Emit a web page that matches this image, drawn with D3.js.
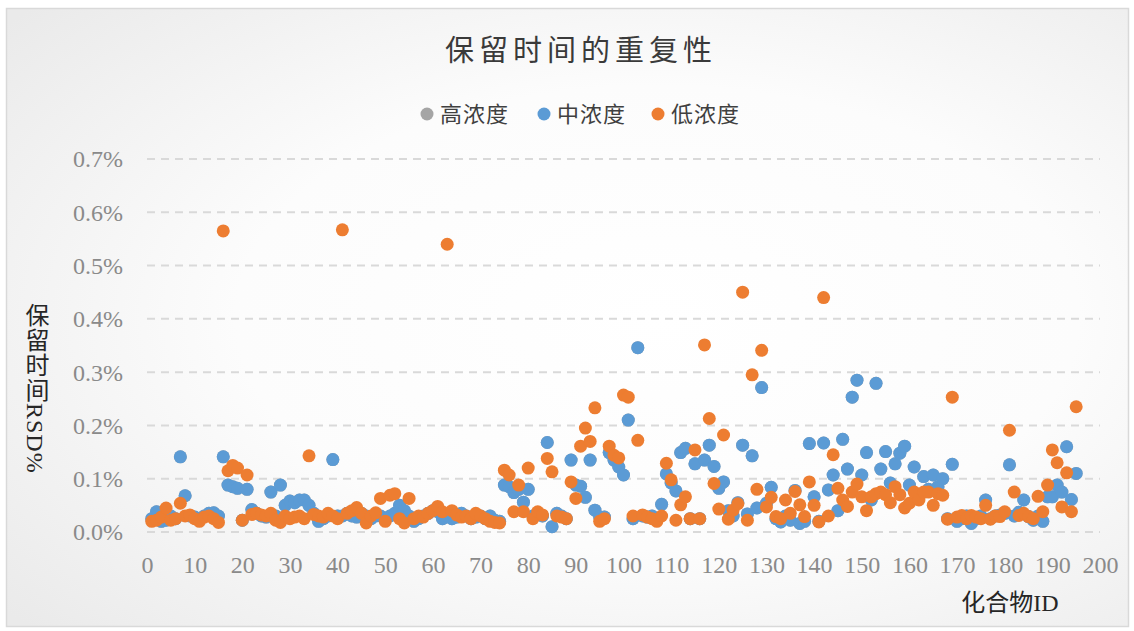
<!DOCTYPE html>
<html><head><meta charset="utf-8">
<script src="https://cdn.jsdelivr.net/npm/d3@7"></script>
<style>
html,body{margin:0;padding:0;background:#fff;}
svg{display:block;}
</style></head>
<body>
<svg id="chart" width="1134" height="631"></svg>
<script>
// ---- Data (RSD %, compound IDs 1..195) ----
const seriesNames = ["高浓度", "中浓度", "低浓度"];
const xTicks = [0,10,20,30,40,50,60,70,80,90,100,110,120,130,140,150,160,170,180,190,200];
const yTicks = [0,0.1,0.2,0.3,0.4,0.5,0.6,0.7];

const midConc = [
.025,.038,.02,.022,.03,.025,.141,.068,.03,.028,
.025,.03,.035,.036,.03,.141,.088,.085,.082,.022,
.08,.042,.035,.03,.028,.075,.03,.088,.05,.058,
.055,.06,.06,.05,.035,.02,.025,.03,.136,.03,
.03,.035,.03,.028,.035,.03,.025,.03,.03,.025,
.03,.035,.05,.04,.03,.02,.025,.03,.035,.04,
.038,.025,.03,.025,.028,.035,.03,.025,.028,.03,
.025,.03,.022,.02,.088,.085,.074,.08,.056,.08,
.03,.035,.03,.168,.01,.035,.03,.025,.135,.088,
.086,.065,.135,.041,.028,.028,.149,.135,.122,.107,
.21,.025,.346,.03,.028,.03,.025,.052,.109,.092,
.077,.149,.157,.025,.128,.025,.135,.163,.123,.082,
.094,.04,.03,.055,.163,.034,.143,.045,.271,.054,
.084,.025,.019,.03,.022,.078,.016,.02,.166,.066,
.02,.167,.079,.107,.04,.174,.118,.253,.285,.107,
.149,.06,.279,.118,.151,.092,.128,.148,.161,.088,
.122,.07,.104,.08,.107,.085,.1,.025,.127,.02,
.025,.03,.016,.025,.03,.06,.025,.03,.032,.035,
.126,.03,.037,.06,.029,.022,.03,.02,.066,.066,
.088,.075,.16,.061,.11
];

const lowConc = [
.02,.022,.028,.045,.022,.025,.054,.03,.032,.025,
.02,.028,.03,.025,.018,.565,.115,.125,.12,.022,
.107,.033,.035,.032,.03,.035,.022,.018,.03,.025,
.028,.03,.025,.143,.033,.03,.028,.035,.03,.025,
.567,.035,.04,.046,.035,.017,.03,.036,.063,.02,
.069,.072,.025,.017,.063,.025,.03,.028,.035,.04,
.048,.038,.54,.04,.032,.028,.03,.025,.035,.03,
.025,.02,.018,.017,.116,.107,.038,.088,.038,.12,
.025,.038,.032,.138,.113,.03,.028,.025,.094,.063,
.161,.195,.17,.233,.02,.025,.161,.144,.139,.257,
.253,.03,.172,.032,.028,.025,.02,.03,.129,.098,
.022,.051,.066,.025,.154,.025,.351,.213,.091,.043,
.182,.024,.041,.053,.45,.022,.295,.08,.341,.047,
.065,.029,.025,.06,.035,.076,.051,.029,.094,.05,
.019,.44,.03,.145,.082,.06,.048,.075,.09,.066,
.04,.066,.072,.075,.07,.055,.085,.07,.045,.054,
.075,.06,.075,.075,.05,.072,.069,.024,.253,.028,
.031,.025,.031,.028,.025,.05,.024,.03,.029,.038,
.191,.075,.031,.035,.029,.025,.067,.038,.088,.154,
.13,.047,.111,.038,.235
];

// high-concentration points coincide with (and are hidden under) the mid series
const highConc = [
.025,.038,.02,.022,.03,.025,.141,.068,.03,.028,
.025,.03,.035,.036,.03,.141,.088,.085,.082,.022,
.08,.042,.035,.03,.028,.075,.03,.088,.05,.058,
.055,.06,.06,.05,.035,.02,.025,.03,.136,.03,
.03,.035,.03,.028,.035,.03,.025,.03,.03,.025,
.03,.035,.05,.04,.03,.02,.025,.03,.035,.04,
.038,.025,.03,.025,.028,.035,.03,.025,.028,.03,
.025,.03,.022,.02,.088,.085,.074,.08,.056,.08,
.03,.035,.03,.168,.01,.035,.03,.025,.135,.088,
.086,.065,.135,.041,.028,.028,.149,.135,.122,.107,
.21,.025,.346,.03,.028,.03,.025,.052,.109,.092,
.077,.149,.157,.025,.128,.025,.135,.163,.123,.082,
.094,.04,.03,.055,.163,.034,.143,.045,.271,.054,
.084,.025,.019,.03,.022,.078,.016,.02,.166,.066,
.02,.167,.079,.107,.04,.174,.118,.253,.285,.107,
.149,.06,.279,.118,.151,.092,.128,.148,.161,.088,
.122,.07,.104,.08,.107,.085,.1,.025,.127,.02,
.025,.03,.016,.025,.03,.06,.025,.03,.032,.035,
.126,.03,.037,.06,.029,.022,.03,.02,.066,.066,
.088,.075,.16,.061,.11
];

const colors = ["#a5a5a5", "#5b9bd5", "#ed7d31"];

// ---- Drawing ----
const svg = d3.select("#chart");

const defs = svg.append("defs");
const grad = defs.append("radialGradient").attr("id","bg")
  .attr("cx","58%").attr("cy","50%").attr("r","75%");
grad.append("stop").attr("offset","0%").attr("stop-color","#ffffff");
grad.append("stop").attr("offset","50%").attr("stop-color","#fcfcfc");
grad.append("stop").attr("offset","100%").attr("stop-color","#eaeaea");

svg.append("rect").attr("x",6.5).attr("y",8.5).attr("width",1122).attr("height",618)
  .attr("fill","url(#bg)").attr("stroke","#d9d9d9").attr("stroke-width",1.5);

const x = d3.scaleLinear().domain([0,200]).range([147,1100]);
const y = d3.scaleLinear().domain([0,0.7]).range([532,159]);

// gridlines
svg.append("g").selectAll("line").data(yTicks).join("line")
  .attr("x1", x(0)).attr("x2", x(200))
  .attr("y1", d => y(d)).attr("y2", d => y(d))
  .attr("stroke","#d9d9d9").attr("stroke-width",2)
  .attr("stroke-dasharray","8,6");

// y axis labels
const yAxis = d3.axisLeft(y).tickValues(yTicks).tickSize(0).tickPadding(0)
  .tickFormat(d => d3.format(".1f")(d) + "%");
const gy = svg.append("g").attr("transform","translate(123,0)").call(yAxis);
gy.select(".domain").remove();
gy.selectAll("text").attr("font-family","'Liberation Serif','DejaVu Serif',serif")
  .attr("font-size",24).attr("fill","#8a8a8a").attr("dy","0.33em");

// x axis labels
const xAxis = d3.axisBottom(x).tickValues(xTicks).tickSize(0).tickPadding(0)
  .tickFormat(d3.format("d"));
const gx = svg.append("g").attr("transform","translate(0,556)").call(xAxis);
gx.select(".domain").remove();
gx.selectAll("text").attr("font-family","'Liberation Serif','DejaVu Serif',serif")
  .attr("font-size",24).attr("fill","#8a8a8a").attr("dy","0.7em");

// points
const allSeries = [highConc, midConc, lowConc];
allSeries.forEach((vals, si) => {
  svg.append("g").selectAll("circle").data(vals).join("circle")
    .attr("cx", (d,i) => x(i+1))
    .attr("cy", d => y(d))
    .attr("r", 6.5)
    .attr("fill", colors[si]);
});

// title
svg.append("text").attr("x",581).attr("y",61).attr("text-anchor","middle")
  .attr("font-family","'Noto Sans CJK SC','Noto Sans',sans-serif")
  .attr("font-size",29).attr("letter-spacing","5px").attr("fill","#3a3a3a")
  .text("保留时间的重复性");

// legend
const legendX = [427, 544, 658];
seriesNames.forEach((name, i) => {
  svg.append("circle").attr("cx", legendX[i]).attr("cy",114).attr("r",6.5).attr("fill",colors[i]);
  svg.append("text").attr("x", legendX[i]+13).attr("y",114).attr("dy","0.36em")
    .attr("font-family","'Noto Sans CJK SC','Noto Sans',sans-serif")
    .attr("font-size",22).attr("letter-spacing","1px").attr("fill","#404040").text(name);
});

// axis titles
svg.append("text").attr("x",1010).attr("y",611).attr("text-anchor","middle")
  .attr("font-family","'Liberation Serif','Noto Sans CJK SC',serif")
  .attr("font-size",24).attr("fill","#262626").text("化合物ID");

svg.append("text").attr("x",35).attr("y",303)
  .attr("style","writing-mode: vertical-rl; text-orientation: mixed;")
  .attr("font-family","'Liberation Serif','Noto Sans CJK SC',serif")
  .attr("font-size",24).attr("letter-spacing","1px").attr("fill","#262626").text("保留时间RSD%");
</script>
</body></html>
